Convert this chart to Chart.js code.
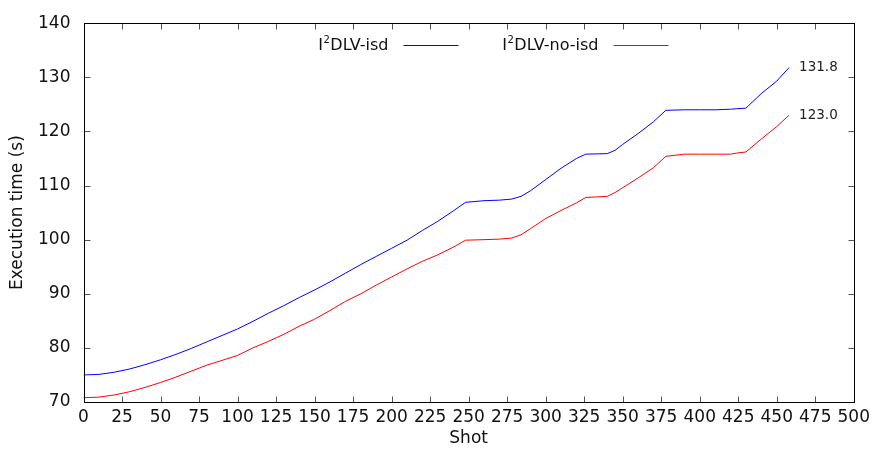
<!DOCTYPE html>
<html>
<head>
<meta charset="utf-8">
<script src="https://cdn.jsdelivr.net/npm/chart.js@4.4.0/dist/chart.umd.min.js"></script>
<style>
  html, body { margin: 0; padding: 0; background: #fff; }
  #wrap { width: 875px; height: 455px; }
</style>
</head>
<body>
<div id="wrap"><canvas id="timeChart" width="875" height="455"></canvas></div>
<script>
// shot index where each sample was taken
const shots = [0, 10, 20, 30, 40, 50, 60, 70, 80, 90, 100, 110, 120, 130, 140, 150, 160, 170, 180, 190,
  200, 210, 220, 230, 240, 248, 260, 270, 278, 284, 290, 300, 310, 320, 326, 340, 345, 350, 360, 370,
  378, 390, 400, 410, 420, 424, 430, 440, 450, 458];

// cumulative execution time (s), with isd
const isdTimes = [75.0, 75.1, 75.5, 76.1, 76.9, 77.8, 78.8, 79.9, 81.1, 82.3, 83.5, 84.9, 86.4, 87.8, 89.3, 90.7, 92.2, 93.8, 95.4, 96.9,
  98.4, 99.9, 101.7, 103.4, 105.3, 106.9, 107.2, 107.3, 107.5, 108.0, 109.0, 111.1, 113.2, 115.0, 115.8, 115.9, 116.5, 117.6, 119.6, 121.8,
  123.9, 124.0, 124.0, 124.0, 124.1, 124.2, 124.3, 127.0, 129.3, 131.8];

// cumulative execution time (s), without isd
const noIsdTimes = [70.8, 70.9, 71.3, 71.9, 72.7, 73.6, 74.6, 75.7, 76.8, 77.7, 78.6, 80.0, 81.2, 82.5, 84.0, 85.3, 86.9, 88.6, 90.0, 91.6,
  93.1, 94.6, 96.0, 97.2, 98.6, 99.9, 100.0, 100.1, 100.3, 100.9, 102.0, 103.9, 105.4, 106.8, 107.8, 108.0, 108.7, 109.6, 111.4, 113.3,
  115.4, 115.8, 115.8, 115.8, 115.8, 116.0, 116.2, 118.6, 120.9, 123.0];

const seriesNames = ["I²DLV-isd", "I²DLV-no-isd"];
const seriesColors = ["#0000ff", "#ff0000"];

const FONT = "'DejaVu Sans', sans-serif";
const TEXT = "#111";

const toPoints = (vals) => vals.map((v, i) => ({ x: shots[i], y: v }));

// gnuplot-like frame with inward ticks on all four sides
const framePlugin = {
  id: "frame",
  afterDatasetsDraw(chart) {
    const { ctx, chartArea: a, scales: { x, y } } = chart;
    const L = Math.round(a.left) + 0.5, R = Math.round(a.right) + 0.5;
    const T = Math.round(a.top) + 0.5, B = Math.round(a.bottom) + 0.5;
    const len = 6;
    ctx.save();
    ctx.lineWidth = 1;
    ctx.strokeStyle = "#555";
    ctx.beginPath();
    x.ticks.forEach((t) => {
      if (t.value <= x.min || t.value >= x.max) return;
      const px = Math.round(x.getPixelForValue(t.value)) + 0.5;
      ctx.moveTo(px, B); ctx.lineTo(px, B - len);
      ctx.moveTo(px, T); ctx.lineTo(px, T + len);
    });
    y.ticks.forEach((t) => {
      if (t.value <= y.min || t.value >= y.max) return;
      const py = Math.round(y.getPixelForValue(t.value)) + 0.5;
      ctx.moveTo(L, py); ctx.lineTo(L + len, py);
      ctx.moveTo(R, py); ctx.lineTo(R - len, py);
    });
    ctx.stroke();
    ctx.strokeStyle = "#000";
    ctx.strokeRect(L, T, R - L, B - T);
    ctx.restore();
  },
};

// final value printed next to the end of each line
const endLabelPlugin = {
  id: "endLabels",
  afterDatasetsDraw(chart) {
    const { ctx } = chart;
    ctx.save();
    ctx.font = "13.5px " + FONT;
    ctx.fillStyle = "#222";
    ctx.textAlign = "left";
    ctx.textBaseline = "middle";
    chart.data.datasets.forEach((ds, i) => {
      const pts = chart.getDatasetMeta(i).data;
      const last = pts[pts.length - 1];
      const val = ds.data[ds.data.length - 1].y;
      ctx.fillText(val.toFixed(1), last.x + 10, last.y);
    });
    ctx.restore();
  },
};

// key: "I²DLV-..." text (superscript drawn smaller) followed by a line sample
const keyPlugin = {
  id: "key",
  afterDraw(chart) {
    const { ctx } = chart;
    const sampleX = [403.5, 613.5];
    const sampleLen = 55;
    const baseY = 49.5;
    ctx.save();
    ctx.fillStyle = TEXT;
    ctx.textBaseline = "alphabetic";
    ctx.textAlign = "left";
    chart.data.datasets.forEach((ds, i) => {
      const [pre, post] = ds.label.split("²");
      ctx.font = "16px " + FONT;
      const wPre = ctx.measureText(pre).width;
      const wPost = ctx.measureText(post).width;
      ctx.font = "10px " + FONT;
      const wSup = ctx.measureText("2").width;
      let tx = sampleX[i] - 15 - (wPost + wSup + wPre + 1);
      ctx.font = "16px " + FONT;
      ctx.fillText(pre, tx, baseY);
      tx += wPre + 0.5;
      ctx.font = "10px " + FONT;
      ctx.fillText("2", tx, baseY - 7);
      tx += wSup + 0.5;
      ctx.font = "16px " + FONT;
      ctx.fillText(post, tx, baseY);
      ctx.strokeStyle = ds.borderColor;
      ctx.lineWidth = 1;
      ctx.beginPath();
      ctx.moveTo(sampleX[i], 45.5);
      ctx.lineTo(sampleX[i] + sampleLen, 45.5);
      ctx.stroke();
    });
    ctx.restore();
  },
};

new Chart(document.getElementById("timeChart").getContext("2d"), {
  type: "line",
  data: {
    datasets: [
      { label: seriesNames[0], data: toPoints(isdTimes), borderColor: seriesColors[0], borderWidth: 1, fill: false, tension: 0 },
      { label: seriesNames[1], data: toPoints(noIsdTimes), borderColor: seriesColors[1], borderWidth: 1, fill: false, tension: 0 },
    ],
  },
  options: {
    responsive: false,
    animation: false,
    layout: { padding: { left: 0, right: 20, top: 16, bottom: 0 } },
    elements: { point: { radius: 0 } },
    plugins: { legend: { display: false }, tooltip: { enabled: false } },
    scales: {
      x: {
        type: "linear",
        min: 0,
        max: 500,
        grid: { display: false, drawTicks: false },
        border: { display: false },
        ticks: { stepSize: 25, autoSkip: false, maxRotation: 0, padding: 5, color: TEXT, font: { family: FONT, size: 17 } },
        title: { display: true, text: "Shot", color: TEXT, font: { family: FONT, size: 17 }, padding: { top: 0, bottom: 6 } },
        afterFit(scale) { scale.height = 53; },
      },
      y: {
        min: 70,
        max: 140,
        grid: { display: false, drawTicks: false },
        border: { display: false },
        ticks: { stepSize: 10, padding: 13, color: TEXT, font: { family: FONT, size: 17 } },
        title: { display: true, text: "Execution time (s)", color: TEXT, font: { family: FONT, size: 17 }, padding: { top: 7, bottom: 0 } },
        afterFit(scale) { scale.width = 83.5; },
      },
    },
  },
  plugins: [framePlugin, endLabelPlugin, keyPlugin],
});
</script>
</body>
</html>
